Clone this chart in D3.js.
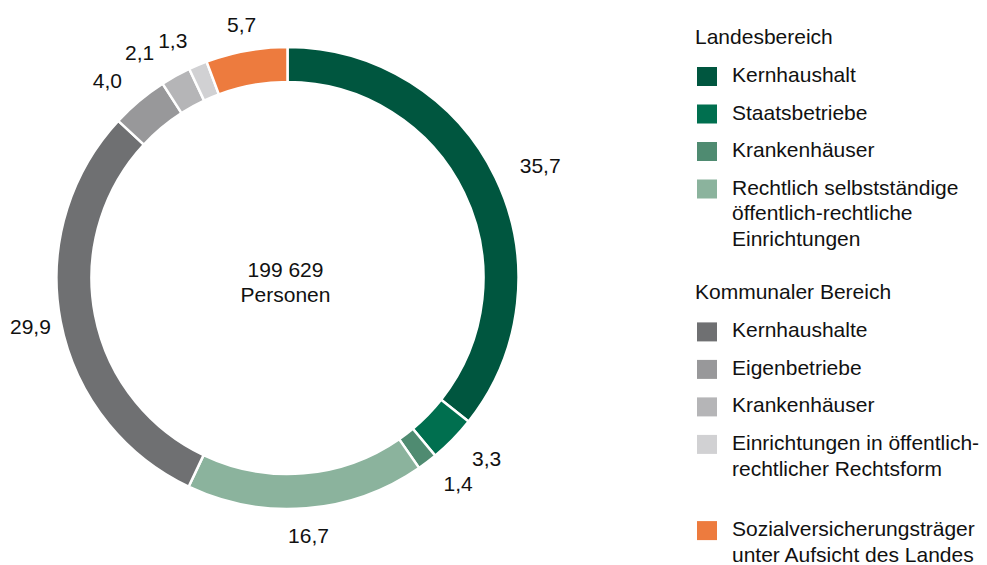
<!DOCTYPE html>
<html>
<head>
<meta charset="utf-8">
<script src="https://cdn.jsdelivr.net/npm/d3@7.9.0/dist/d3.min.js"></script>
<style>
  body { margin: 0; background: #fff; }
  svg text { font-family: "Liberation Sans", Arial, sans-serif; font-size: 21px; fill: #111; }
</style>
</head>
<body>
<svg width="987" height="565"></svg>
<script>
// slices, clockwise from 12 o'clock
const labels = [
  'Kernhaushalt', 'Staatsbetriebe', 'Krankenhäuser',
  'Rechtlich selbstständige öffentlich-rechtliche Einrichtungen',
  'Kernhaushalte', 'Eigenbetriebe', 'Krankenhäuser',
  'Einrichtungen in öffentlich-rechtlicher Rechtsform',
  'Sozialversicherungsträger unter Aufsicht des Landes'
];
const values = [35.7, 3.3, 1.4, 16.7, 29.9, 4.0, 2.1, 1.3, 5.7];
const colors = ['#00563f', '#006f4f', '#4f8b71', '#8bb39d',
                '#6f7072', '#98989a', '#b5b5b7', '#d1d1d3', '#ed7b3e'];

// legend text, split into lines as in the original
const legendGroups = [
  { title: 'Landesbereich', items: [
    [0, ['Kernhaushalt']],
    [1, ['Staatsbetriebe']],
    [2, ['Krankenhäuser']],
    [3, ['Rechtlich selbstständige', 'öffentlich-rechtliche', 'Einrichtungen']]
  ]},
  { title: 'Kommunaler Bereich', items: [
    [4, ['Kernhaushalte']],
    [5, ['Eigenbetriebe']],
    [6, ['Krankenhäuser']],
    [7, ['Einrichtungen in öffentlich-', 'rechtlicher Rechtsform']]
  ]},
  { title: null, items: [
    [8, ['Sozialversicherungsträger', 'unter Aufsicht des Landes']]
  ]}
];
const totalLines = ['199 629', 'Personen'];

const fmt = v => d3.format('.1f')(v).replace('.', ',');

const svg = d3.select('svg');
const cx = 287.5, cy = 278;
const outerR = 231, innerR = 196, labelR = 258;

let pie = d3.pie().sort(null).value(d => d);
let arcData = pie(values);
let arcGen = d3.arc().innerRadius(innerR).outerRadius(outerR);

const g = svg.append('g').attr('transform', `translate(${cx},${cy})`);

g.selectAll('path')
  .data(arcData)
  .join('path')
  .attr('d', arcGen)
  .attr('fill', (d, i) => colors[i])
  .attr('stroke', '#fff')
  .attr('stroke-width', 2.5);

// value labels: start on the right, end on the left, middle near top/bottom
let boxes = [];
g.selectAll('text.val')
  .data(arcData)
  .join('text')
  .attr('class', 'val')
  .text(d => fmt(d.data))
  .each(function (d) {
    let a = (d.startAngle + d.endAngle) / 2;
    let s = Math.sin(a), c = Math.cos(a);
    let w = this.getComputedTextLength();
    let ax = labelR * s, ay = -labelR * c;
    let x = s > 0.3 ? ax : s < -0.3 ? ax - w : ax - w / 2;
    x = Math.max(x, 10 - cx); // keep inside the page
    boxes.push({ el: this, x: x, y: ay + 7.5, w: w, left: s < 0 });
  });

// small slices on the left can collide: push the earlier one to the left
for (let i = boxes.length - 2; i >= 0; i--) {
  let a = boxes[i], b = boxes[i + 1];
  if (!a.left || !b.left) continue;
  let overlapX = a.x + a.w + 4 - b.x;
  let overlapY = Math.abs(a.y - b.y) < 16;
  if (overlapX > 0 && overlapY) a.x -= overlapX;
}
boxes.forEach(b => d3.select(b.el).attr('x', b.x).attr('y', b.y));

g.append('text')
  .attr('text-anchor', 'middle')
  .selectAll('tspan')
  .data(totalLines)
  .join('tspan')
  .attr('x', -2)
  .attr('y', (d, i) => -1 + i * 25)
  .text(d => d);

// legend
const legend = svg.append('g').attr('transform', 'translate(697,0)');
let y = 27;
legendGroups.forEach((grp, gi) => {
  if (grp.title) {
    legend.append('text').attr('x', -2).attr('y', y + 17).text(grp.title);
    y += 40;
  }
  grp.items.forEach(([idx, lines]) => {
    legend.append('rect')
      .attr('x', 0).attr('y', y)
      .attr('width', 20).attr('height', 19)
      .attr('fill', colors[idx]);
    let t = legend.append('text');
    lines.forEach((ln, li) => {
      t.append('tspan').attr('x', 35).attr('y', y + 15 + li * 25.7).text(ln);
    });
    y += 37.5 + (lines.length - 1) * 25.7;
  });
  y += gi === 0 ? 14 : 23;
});
</script>
</body>
</html>
